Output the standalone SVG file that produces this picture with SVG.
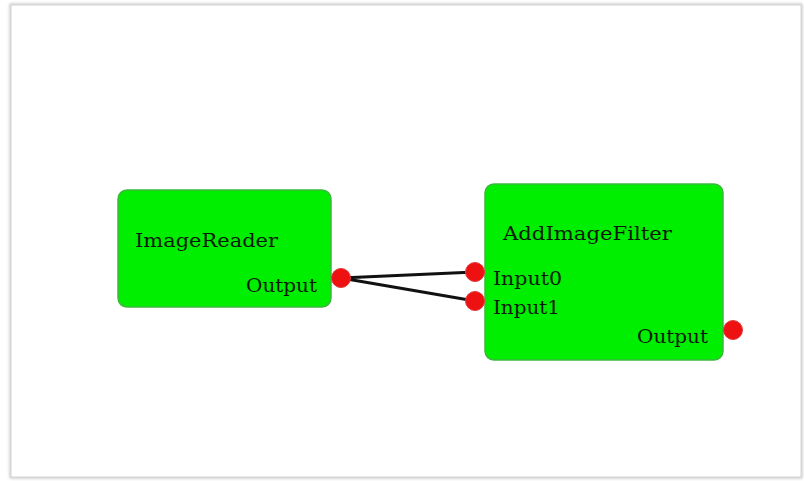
<svg xmlns="http://www.w3.org/2000/svg" width="804" height="481" viewBox="0 0 804 481">
  <defs>
    <filter id="frameShadow" x="-5%" y="-5%" width="110%" height="110%">
      <feGaussianBlur stdDeviation="1.5"/>
    </filter>
  </defs>
  <style>
    .node { fill: #00ee00; stroke: #3cb83c; stroke-width: 1.5; }
    .port { fill: #ee1111; stroke: #e23a3a; stroke-width: 1; }
    .title { font-family: "DejaVu Serif", "Liberation Serif", serif; font-size: 19px; fill: #0a1a0a; }
    .label { font-family: "DejaVu Serif", "Liberation Serif", serif; font-size: 19px; fill: #0a1a0a; }
    .wire { fill: none; stroke: #111111; stroke-width: 3; stroke-linecap: round; }
  </style>

  <!-- canvas -->
  <rect x="0" y="0" width="804" height="481" fill="#ffffff"/>
  <rect x="11" y="5" width="790" height="472" fill="none" stroke="#bdbdbd" stroke-width="2.5" filter="url(#frameShadow)"/>
  <rect x="11" y="5" width="790" height="472" fill="#ffffff" stroke="#d4d4d4" stroke-width="1"/>

  <!-- connectors -->
  <g id="connectors">
    <line class="wire" x1="341" y1="278" x2="475" y2="272"/>
    <line class="wire" x1="341" y1="278" x2="475" y2="301"/>
  </g>

  <g id="image-reader">
    <rect class="node" x="118" y="190" width="213" height="117" rx="9" ry="9"/>
    <text class="title" x="135" y="247" textLength="143" lengthAdjust="spacingAndGlyphs">ImageReader</text>
    <text class="label" x="246" y="292" textLength="71" lengthAdjust="spacingAndGlyphs">Output</text>
    <circle class="port" cx="341" cy="278" r="9.5"/>
  </g>

  <g id="add-image-filter">
    <rect class="node" x="485" y="184" width="238" height="176" rx="9" ry="9"/>
    <text class="title" x="503" y="240" textLength="169" lengthAdjust="spacingAndGlyphs">AddImageFilter</text>
    <text class="label" x="493" y="285" textLength="69" lengthAdjust="spacingAndGlyphs">Input0</text>
    <text class="label" x="493" y="314" textLength="67" lengthAdjust="spacingAndGlyphs">Input1</text>
    <text class="label" x="637" y="343" textLength="71" lengthAdjust="spacingAndGlyphs">Output</text>
    <circle class="port" cx="475" cy="272" r="9.5"/>
    <circle class="port" cx="475" cy="301" r="9.5"/>
    <circle class="port" cx="733" cy="330" r="9.5"/>
  </g>
</svg>
